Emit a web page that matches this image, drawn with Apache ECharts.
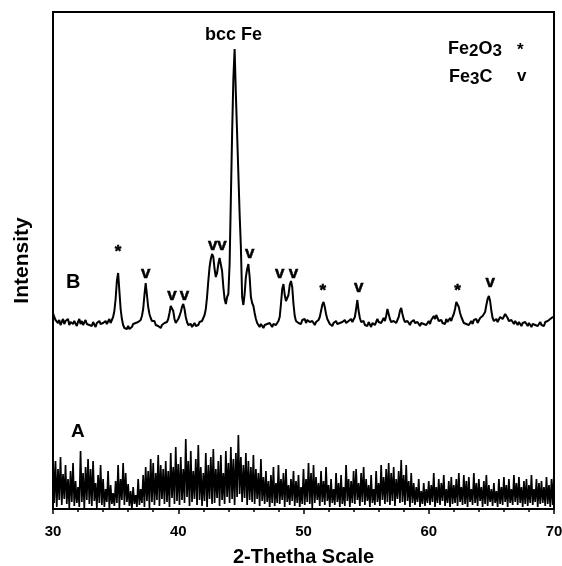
<!DOCTYPE html>
<html>
<head>
<meta charset="utf-8">
<script src="https://cdn.jsdelivr.net/npm/echarts@6/dist/echarts.min.js"></script>
<style>
html,body{margin:0;padding:0;background:#fff;}
#chart{width:562px;height:566px;}
</style>
</head>
<body>
<div id="chart"></div>
<script>
// 2-theta sampling grid (degrees)
const thetaStart = 30;
const thetaStep = 0.1;

// Trace B (annealed sample) intensity, one row per degree 30.0 .. 69.9, then 70.0
const intensityB = [
  196,192,189,191,186,189,184,187,190,185,
  188,186,190,184,187,189,185,188,186,183,
  187,190,185,188,184,186,189,185,187,184,
  186,183,187,185,182,186,184,188,185,183,
  186,184,188,185,187,190,186,189,192,198,
  210,228,236,218,200,190,184,181,183,180,
  183,180,178,182,185,183,186,184,187,186,
  189,193,200,214,226,214,202,195,191,188,
  186,188,184,186,183,185,181,184,182,186,
  184,187,190,196,203,205,198,190,186,188,
  190,193,197,202,205,200,192,187,184,183,
  185,182,184,186,183,185,184,187,185,188,
  190,194,200,212,228,242,250,255,252,240,
  232,236,245,251,250,238,222,210,205,212,
  215,245,310,375,430,460,415,375,335,295,
  262,212,204,215,232,240,245,232,212,206,
  203,196,190,186,184,182,185,183,181,184,
  182,185,183,186,184,182,185,187,184,186,
  188,192,205,220,225,214,208,206,214,224,
  228,222,205,193,188,190,186,188,185,189,
  187,190,186,189,191,187,185,188,186,184,
  187,185,189,192,198,204,207,202,195,190,
  188,185,187,183,186,184,188,185,183,186,
  184,187,185,189,186,184,188,186,190,187,
  189,192,200,209,198,191,187,185,188,184,
  186,183,187,185,182,186,188,184,187,190,
  187,189,186,188,191,188,193,200,195,190,
  187,185,188,190,186,189,192,198,201,195,
  190,187,185,188,186,184,187,185,189,186,
  184,187,185,183,186,188,185,187,184,186,
  188,185,189,191,193,190,194,192,188,186,
  189,186,188,185,190,187,189,191,188,192,
  195,200,207,208,202,196,192,189,186,188,
  185,187,184,186,188,185,189,187,190,186,
  188,191,189,193,192,197,204,210,213,208,
  198,191,188,186,190,187,189,192,194,190,
  192,195,196,191,188,186,189,187,185,188,
  186,184,187,185,183,186,184,187,185,183,
  186,184,182,185,187,184,186,183,185,187,
  184,186,183,187,185,188,186,190,188,192,
  191
];

// Trace A (as-prepared sample) intensity, same grid
const intensityA = [
  56,6,48,2,40,9,52,4,35,10,
  44,5,30,1,38,7,46,3,28,6,
  22,2,58,7,36,0,42,9,50,5,
  40,3,48,8,26,1,34,6,44,4,
  30,2,20,7,38,0,24,5,16,3,
  28,6,44,1,30,9,46,4,36,7,
  25,3,18,0,22,5,14,2,30,4,
  20,6,34,2,42,8,38,1,50,7,
  46,4,36,9,54,3,44,10,40,5,
  48,7,38,2,56,11,42,5,62,8,
  45,4,52,9,40,6,70,12,48,3,
  58,7,38,10,50,4,64,9,42,3,
  36,8,56,2,44,10,52,5,60,6,
  40,11,48,3,54,9,36,5,58,12,
  46,6,62,10,50,4,56,12,74,15,
  52,7,44,11,56,4,48,9,42,7,
  54,5,40,10,36,3,50,8,32,5,
  38,7,28,2,34,6,42,3,26,6,
  44,5,30,9,36,2,40,7,24,4,
  30,8,38,3,28,6,34,2,22,5,
  40,4,30,7,46,5,36,1,44,6,
  32,9,26,3,38,7,28,4,42,8,
  24,2,30,6,20,4,36,7,26,2,
  34,5,22,3,44,8,30,2,28,6,
  38,5,40,9,26,3,36,7,42,4,
  30,8,24,2,34,6,20,4,38,7,
  26,3,44,9,32,5,40,7,46,4,
  36,8,42,3,30,10,38,6,49,7,
  34,4,44,8,28,2,36,6,26,4,
  22,7,30,2,18,5,26,3,20,6,
  28,4,24,7,36,2,22,6,30,4,
  26,8,34,3,20,6,28,2,32,5,
  24,6,30,3,36,7,22,4,34,5,
  28,2,32,7,20,4,36,6,26,3,
  30,8,22,2,28,5,34,3,24,7,
  20,3,26,6,18,2,30,5,22,4,
  32,7,24,2,30,6,20,4,34,7,
  26,4,32,6,22,2,28,5,30,3,
  24,6,34,4,20,7,30,2,26,5,
  28,6,22,3,32,5,24,2,30,4,
  38
];

// Peak markers: Fe2O3 (*) and Fe3C (v)
const starTheta = [35.2, 51.55, 62.3];
const starLevel = [260, 221, 221];
const vTheta = [37.4, 39.5, 40.5, 42.75, 43.5, 45.7, 48.1, 49.2, 54.4, 64.9];
const vLevel = [235, 213, 213, 263, 263, 255, 235, 235, 221, 226];

// Axis ticks
const xTicks = [30, 40, 50, 60, 70];

const FONT = '"Liberation Sans", Arial, Helvetica, sans-serif';

function toPairs(values) {
  return values.map((v, i) => [Number((thetaStart + i * thetaStep).toFixed(2)), v]);
}
function markerPairs(xs, ys, sym) {
  return xs.map((x, i) => [x, ys[i], sym]);
}

const chart = echarts.init(document.getElementById('chart'), null, {renderer: 'canvas'});

const markerLabel = (dy) => ({
  show: true, position: 'inside', formatter: p => p.data[2], fontFamily: FONT,
  fontWeight: 'bold', fontSize: 17, color: '#000', opacity: 1,
  textBorderColor: '#000', textBorderWidth: 0.5, offset: [0, dy]
});

const option = {
  animation: false,
  backgroundColor: '#fff',
  grid: {left: 53, right: 8, top: 12, bottom: 57, show: true, borderColor: '#000', borderWidth: 2,
         outerBoundsMode: 'none', containLabel: false},
  xAxis: {
    type: 'value',
    min: xTicks[0],
    max: xTicks[xTicks.length - 1],
    interval: 10,
    name: '2-Thetha Scale',
    nameLocation: 'middle',
    nameGap: 38,
    nameTextStyle: {fontFamily: FONT, fontWeight: 'bold', fontSize: 20, color: '#000'},
    axisLine: {show: true, lineStyle: {color: '#000', width: 2}},
    axisTick: {show: true, length: 5, lineStyle: {color: '#000', width: 1.5}},
    minorTick: {show: true, splitNumber: 5, length: 3, lineStyle: {color: '#000', width: 1.5}},
    axisLabel: {fontFamily: FONT, fontWeight: 'bold', fontSize: 15, color: '#000', margin: 15},
    splitLine: {show: false}
  },
  yAxis: {
    type: 'value',
    min: 0,
    max: 497,
    name: 'Intensity',
    nameLocation: 'middle',
    nameGap: 20,
    nameTextStyle: {fontFamily: FONT, fontWeight: 'bold', fontSize: 21, color: '#000'},
    axisLine: {show: true, lineStyle: {color: '#000', width: 2}},
    axisTick: {show: false},
    axisLabel: {show: false},
    splitLine: {show: false}
  },
  series: [
    {
      name: 'A', type: 'line', data: toPairs(intensityA), symbol: 'none',
      lineStyle: {color: '#000', width: 1.7}, z: 2
    },
    {
      name: 'B', type: 'line', data: toPairs(intensityB), symbol: 'none',
      lineStyle: {color: '#000', width: 2}, z: 3
    },
    {
      name: 'Fe2O3', type: 'scatter', data: markerPairs(starTheta, starLevel, '*'),
      symbolSize: 1, itemStyle: {color: 'rgba(0,0,0,0)', opacity: 1}, label: markerLabel(3)
    },
    {
      name: 'Fe3C', type: 'scatter', data: markerPairs(vTheta, vLevel, 'v'),
      symbolSize: 1, itemStyle: {color: 'rgba(0,0,0,0)', opacity: 1}, label: markerLabel(-1)
    }
  ],
  graphic: [
    {type: 'text', left: 205, top: 26, style: {text: 'bcc Fe', font: 'bold 18px ' + FONT, fill: '#000'}},
    {type: 'text', left: 66, top: 272, style: {text: 'B', font: 'bold 20px ' + FONT, fill: '#000'}},
    {type: 'text', left: 71, top: 422, style: {text: 'A', font: 'bold 19px ' + FONT, fill: '#000'}},
    {type: 'text', left: 448, top: 40, style: {
      text: '{m|Fe}{s|2}{m|O}{s|3}', font: 'bold 18px ' + FONT, fill: '#000',
      rich: {
        m: {fontFamily: FONT, fontWeight: 'bold', fontSize: 18, lineHeight: 22, verticalAlign: 'middle'},
        s: {fontFamily: FONT, fontWeight: 'bold', fontSize: 17, lineHeight: 14, verticalAlign: 'bottom'}
      }
    }},
    {type: 'text', left: 517, top: 42, style: {text: '*', font: 'bold 17px ' + FONT, fill: '#000'}},
    {type: 'text', left: 449, top: 68, style: {
      text: '{m|Fe}{s|3}{m|C}', font: 'bold 18px ' + FONT, fill: '#000',
      rich: {
        m: {fontFamily: FONT, fontWeight: 'bold', fontSize: 18, lineHeight: 22, verticalAlign: 'middle'},
        s: {fontFamily: FONT, fontWeight: 'bold', fontSize: 17, lineHeight: 14, verticalAlign: 'bottom'}
      }
    }},
    {type: 'text', left: 517, top: 68, style: {text: 'v', font: 'bold 17px ' + FONT, fill: '#000'}}
  ]
};

chart.setOption(option);
</script>
</body>
</html>
